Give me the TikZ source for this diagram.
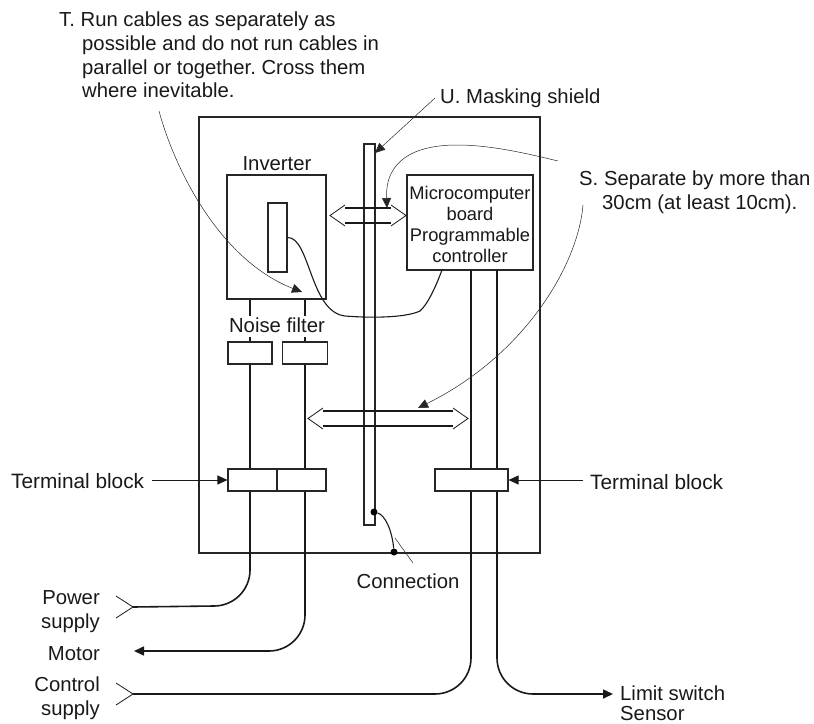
\documentclass[tikz,border=0pt]{standalone}
\usepackage{fontspec}
\setmainfont{Liberation Sans}
\usetikzlibrary{arrows.meta, positioning, calc}

\begin{document}
\frenchspacing
\begin{tikzpicture}[
	x=1pt, y=-1pt,
	box/.style={rectangle, draw=black!85, line width=1.1pt, inner sep=0pt, fill=white},
	txt/.style={inner sep=0pt, font=\fontsize{20.3}{24}\selectfont, text=black!90},
	termtxt/.style={txt, font=\fontsize{20.8}{24}\selectfont},
	wire/.style={line width=1.6pt, draw=black!90},
	cable/.style={line width=1.1pt, draw=black!90},
	leader/.style={line width=0.5pt, draw=black!85, -{Triangle[length=10pt, width=9pt]}},
	thinline/.style={line width=0.5pt, draw=black!85},
	feed/.style={line width=0.8pt, draw=black!90, -{Triangle[length=10pt, width=9pt]}},
	wirearrow/.style={wire, -{Triangle[length=10pt, width=9pt]}},
	chev/.style={line width=0.8pt, draw=black!90},
	spot/.style={circle, fill=black, inner sep=0pt, minimum size=7pt}
	]
	\useasboundingbox (0,0) rectangle (814,723);

	% cabinet and inverter
	\node[box, fill=none, minimum width=341pt, minimum height=436pt] (cabinet) at (369.5,335) {};
	\node[box, fill=none, minimum width=99pt, minimum height=124pt] (inverter) at (276.5,237) {};
	\node[box, fill=none, minimum width=19pt, minimum height=69pt] (card) at (277.5,237.5) {};
	\node[box, fill=none, minimum width=11pt, minimum height=381pt] (shield) at (369.5,334.5) {};

	% filters and terminal blocks
	\node[box, minimum width=44pt, minimum height=22pt] (filterA) at (250,353) {};
	\node[box, minimum width=45pt, minimum height=22pt] (filterB) at (305,353) {};
	\node[box, minimum width=49pt, minimum height=22pt] (blockA) at (252.5,480) {};
	\node[box, minimum width=49pt, minimum height=22pt] (blockB) at (301.5,480) {};
	\node[box, minimum width=73pt, minimum height=22pt] (blockC) at (471.5,480) {};
	\node[box, minimum width=126pt, minimum height=95pt] (micro) at (470,222.5) {};

	% free ends of the wires
	\coordinate (pwrend) at (133,607);
	\coordinate (motend) at (134,651);
	\coordinate (ctlend) at (133,694);
	\coordinate (limend) at (613,694);
	\coordinate (ctlA) at (471,270);
	\coordinate (ctlB) at (497,270);

	% power wires
	\draw[wire] (filterA.north |- inverter.south) -- (filterA.north);
	\draw[wire] (filterB.north |- inverter.south) -- (filterB.north);
	\draw[wire] (filterA.south) -- (filterA.south |- blockA.north);
	\draw[wire] (filterB.south) -- (filterB.south |- blockB.north);
	\draw[wire] (filterA.south |- blockA.south) -- (250,570) arc[start angle=0, end angle=-90, radius=36pt] -- (pwrend);
	\draw[wirearrow] (filterB.south |- blockB.south) -- (305,615) arc[start angle=0, end angle=-90, radius=36pt] -- (motend);

	% control wires
	\draw[wire] (ctlA) -- (ctlA |- blockC.north);
	\draw[wire] (ctlB) -- (ctlB |- blockC.north);
	\draw[wire] (ctlA |- blockC.south) -- (471,658) arc[start angle=0, end angle=-90, radius=36pt] -- (ctlend);
	\draw[wirearrow] (ctlB |- blockC.south) -- (497,658) arc[start angle=180, end angle=270, radius=36pt] -- (limend);

	% board cable
	\draw[cable] (card.east) .. controls (310,237) and (310,312) .. (345,316) .. controls (370,318) and (405,318) .. (420,311) .. controls (428,304) and (436,286) .. (442,270);

	% separation arrows
	\coordinate (gapAl) at (345,215.5);
	\coordinate (gapAr) at (391,215.5);
	\coordinate (gapBl) at (323,418.5);
	\coordinate (gapBr) at (453,418.5);
	\draw[wire] ($(gapAl)+(0,-7.5)$) -- ($(gapAr)+(0,-7.5)$);
	\draw[wire] ($(gapAl)+(0,7.5)$) -- ($(gapAr)+(0,7.5)$);
	\draw[chev] ($(gapAl)+(0,-10.5)$) -- ($(gapAl)+(-15,0)$) -- ($(gapAl)+(0,10.5)$);
	\draw[chev] ($(gapAr)+(0,-10.5)$) -- ($(gapAr)+(15,0)$) -- ($(gapAr)+(0,10.5)$);
	\draw[wire] ($(gapBl)+(0,-7.5)$) -- ($(gapBr)+(0,-7.5)$);
	\draw[wire] ($(gapBl)+(0,7.5)$) -- ($(gapBr)+(0,7.5)$);
	\draw[chev] ($(gapBl)+(0,-10.5)$) -- ($(gapBl)+(-15,0)$) -- ($(gapBl)+(0,10.5)$);
	\draw[chev] ($(gapBr)+(0,-10.5)$) -- ($(gapBr)+(15,0)$) -- ($(gapBr)+(0,10.5)$);

	% open ends
	\draw[chev] ($(pwrend)+(-17,-11)$) -- (pwrend) -- ($(pwrend)+(-17,11)$);
	\draw[chev] ($(ctlend)+(-17,-11)$) -- (ctlend) -- ($(ctlend)+(-17,11)$);

	% connection
	\node[spot] (spotA) at (374,512) {};
	\node[spot] (spotB) at (394,552) {};
	\draw[cable] (spotA) .. controls (385,515) and (392,530) .. (spotB);

	% labels
	\node[txt, anchor=base west] (noteT) at (59,26) {T. Run cables as separately as};
	\node[txt, anchor=base west] (noteTb) at (82,50) {possible and do not run cables in};
	\node[txt, anchor=base west] (noteTc) at (82,74) {parallel or together. Cross them};
	\node[txt, anchor=base west] (noteTd) at (82,97) {where inevitable.};
	\node[txt, anchor=base west] (noteU) at (440,103) {U. Masking shield};
	\node[txt, anchor=base west] (noteS) at (579,185) {S. Separate by more than};
	\node[txt, anchor=base west] (noteSb) at (602,209) {30cm (at least 10cm).};
	\node[txt, anchor=base] (invlabel) at (277,170) {Inverter};
	\node[txt, anchor=base, fill=white, text height=16pt, text depth=5pt] (noiselabel) at (277,332) {Noise filter};
	\node[termtxt, anchor=base west] (termL) at (11,488) {Terminal block};
	\node[termtxt, anchor=base west] (termR) at (590,489) {Terminal block};
	\node[txt, anchor=base] (connlabel) at (408,588) {Connection};
	\node[txt, anchor=base east, align=right] (pwrlabel) at (100,628) {Power\\supply};
	\node[txt, anchor=base east] (motlabel) at (100,660) {Motor};
	\node[txt, anchor=base east, align=right] (ctllabel) at (100,715) {Control\\supply};
	\node[txt, anchor=base west] (limlabel) at (620,700) {Limit switch};
	\node[txt, anchor=base west] (senslabel) at (620,720) {Sensor};
	\node[txt, align=center, font=\fontsize{18.3}{20.7}\selectfont] (microlabel) at ($(micro.center)+(0,2)$) {Microcomputer\\board\\Programmable\\controller};

	% leaders
	\coordinate (tstart) at (159,111);
	\coordinate (ustart) at (435,98);
	\coordinate (sstartA) at (558,161);
	\coordinate (sstartB) at (583,205);
	\coordinate (connstart) at (395,538);
	\coordinate (connend) at (413,563);
	\draw[leader] (tstart) .. controls (175,170) and (220,260) .. (302,292);
	\draw[leader] (ustart) -- (375,153);
	\draw[leader] (sstartA) .. controls (525,153) and (490,145) .. (457,145) .. controls (415,145) and (385,160) .. (387,208);
	\draw[leader] (sstartB) .. controls (578,265) and (525,355) .. (418,408);
	\draw[thinline] (connstart) -- (connend);
	\draw[feed] (152,480) -- (blockA.west);
	\draw[feed] (583,480) -- (blockC.east);
\end{tikzpicture}
\end{document}
